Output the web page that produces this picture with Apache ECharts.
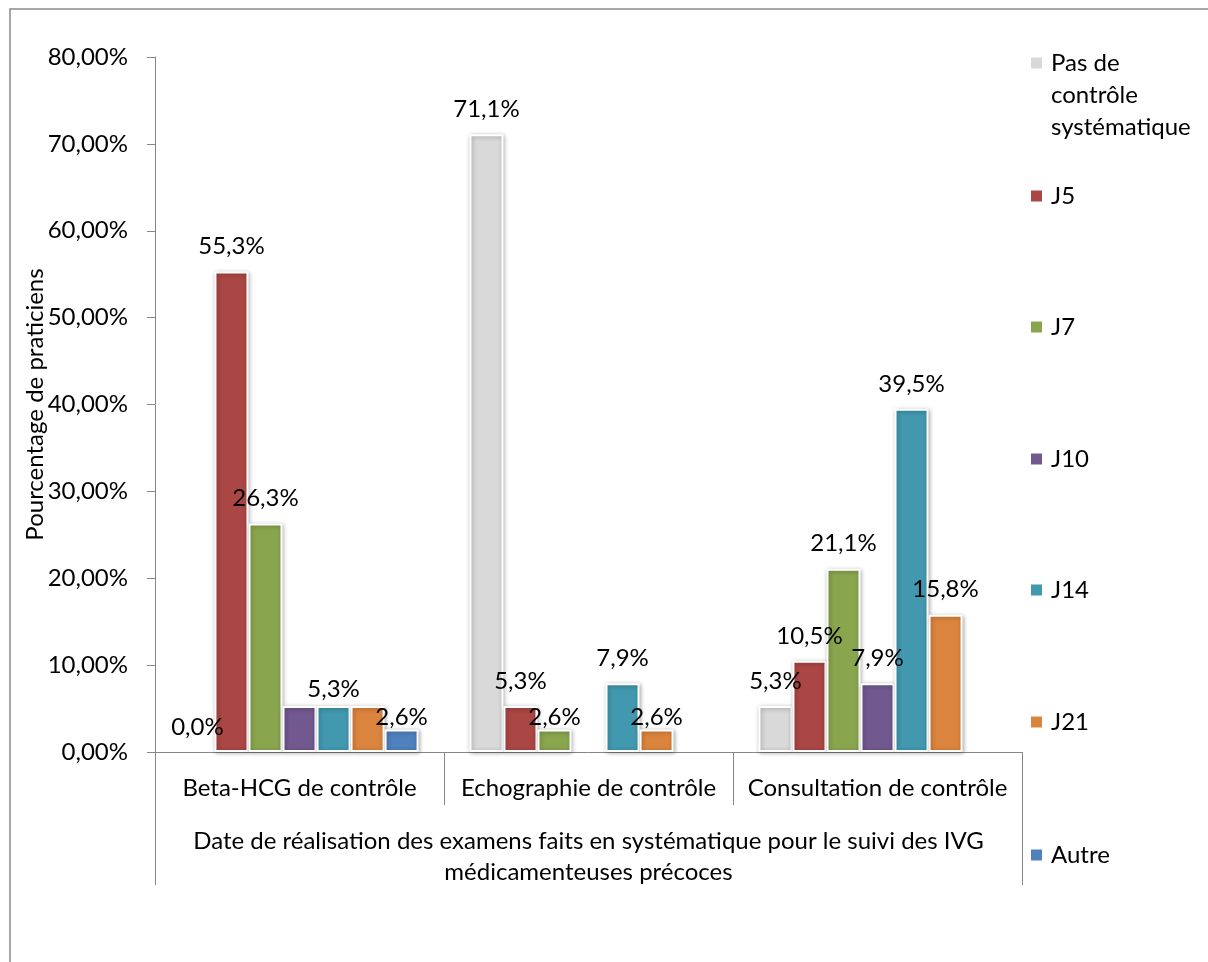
<!DOCTYPE html>
<html>
<head>
<meta charset="utf-8">
<script src="https://cdn.jsdelivr.net/npm/echarts@6/dist/echarts.min.js"></script>
<style>
  html, body { margin: 0; padding: 0; background: #ffffff; }
  #chart { width: 1208px; height: 962px; }
</style>
</head>
<body>
<div id="chart"></div>
<script>
// Categories (exams) and the outer axis title
const categories = ['Beta-HCG de contrôle', 'Echographie de contrôle', 'Consultation de contrôle'];
const groupTitle = 'Date de réalisation des examens faits en systématique pour le suivi des IVG\nmédicamenteuses précoces';

// Series names, in legend order
const seriesNames = ['Pas de contrôle systématique', 'J5', 'J7', 'J10', 'J14', 'J21', 'Autre'];

// Percentages of practitioners per category (null = no bar)
const pasDeControle = [0.0, 71.1, 5.3];
const j5 = [55.3, 5.3, 10.5];
const j7 = [26.3, 2.6, 21.1];
const j10 = [5.3, null, 7.9];
const j14 = [5.3, 7.9, 39.5];
const j21 = [5.3, 2.6, 15.8];
const autre = [2.6, null, null];

// Value axis range
const yMin = 0;
const yMax = 80;
const yStep = 10;

const seriesValues = [pasDeControle, j5, j7, j10, j14, j21, autre];
const colors = ['#D9D9D9', '#AA4643', '#89A54E', '#71588F', '#4198AF', '#DB843D', '#4F81BD'];

// Labels that are not displayed, and labels nudged closer to their bar
const hiddenLabels = { 'J10|0': true, 'J21|0': true };
const labelShift = { 'J14|0': 8, 'Autre|0': 13, 'J7|1': 13, 'J21|1': 13 };

const FONT = 'Lato, "Open Sans", sans-serif';
const TEXT = '#000000';
const AXIS = '#868686';
const FS = 24;

const fmtPct = v => v.toFixed(1).replace('.', ',') + '%';

const series = seriesNames.map((name, si) => ({
  name: name,
  type: 'bar',
  xAxisIndex: 0,
  barGap: '0%',
  barCategoryGap: '17.6%',
  itemStyle: {
    color: colors[si],
    borderColor: '#ffffff',
    borderWidth: 2,
    shadowBlur: 4,
    shadowColor: 'rgba(0,0,0,0.30)',
    shadowOffsetX: 1,
    shadowOffsetY: 1
  },
  label: {
    show: true,
    position: 'top',
    distance: 13,
    color: TEXT,
    fontFamily: FONT,
    fontSize: FS,
    formatter: p => fmtPct(p.value)
  },
  data: seriesValues[si].map((v, ci) => {
    const key = name + '|' + ci;
    const item = { value: v };
    if (v === 0) item.itemStyle = { borderWidth: 0, shadowBlur: 0, shadowColor: 'transparent' };
    if (hiddenLabels[key]) item.label = { show: false };
    else if (labelShift[key]) item.label = { offset: [0, labelShift[key]] };
    return item;
  })
}));

// One legend block per series so each entry sits on its own row
const legendCenters = [63, 196, 327, 459, 590, 722, 855];
const legends = seriesNames.map((name, i) => {
  const multi = i === 0;
  return {
    data: [name],
    orient: 'vertical',
    left: 1029,
    // the wrapped entry carries two empty leading lines so its first line faces the marker
    top: multi ? legendCenters[i] - 80 : legendCenters[i] - 16,
    padding: 0,
    itemWidth: 13,
    itemHeight: 13,
    icon: 'rect',
    selectedMode: false,
    formatter: n => multi ? '\n\nPas de\ncontrôle\nsystématique' : n,
    textStyle: {
      color: TEXT,
      fontFamily: FONT,
      fontSize: FS,
      lineHeight: 32,
      padding: [0, 0, 0, 3]
    }
  };
});

const chart = echarts.init(document.getElementById('chart'), null, { renderer: 'canvas' });
chart.setOption({
  backgroundColor: '#ffffff',
  animation: false,
  color: colors,
  textStyle: { fontFamily: FONT },
  graphic: [{
    type: 'rect',
    shape: { x: 10, y: 9, width: 1400, height: 1200 },
    style: { fill: 'none', stroke: '#8C8C8C', lineWidth: 1.5 },
    silent: true,
    z: -1
  }],
  legend: legends,
  grid: { left: 155, right: 186, top: 57, bottom: 210, containLabel: false },
  xAxis: [{
    type: 'category',
    data: categories,
    position: 'bottom',
    axisLine: { show: true, lineStyle: { color: AXIS, width: 1 } },
    axisTick: { show: true, inside: false, length: 53, alignWithLabel: false, lineStyle: { color: AXIS } },
    axisLabel: { color: TEXT, fontFamily: FONT, fontSize: FS, margin: 21, lineHeight: 30, interval: 0 },
    splitLine: { show: false }
  }, {
    type: 'category',
    data: [groupTitle],
    position: 'bottom',
    offset: 53,
    axisLine: { show: false },
    axisTick: { show: true, inside: false, length: 80, alignWithLabel: false, lineStyle: { color: AXIS } },
    axisLabel: { color: TEXT, fontFamily: FONT, fontSize: FS, margin: 21, lineHeight: 31, interval: 0, align: 'center' },
    splitLine: { show: false }
  }],
  yAxis: {
    type: 'value',
    min: yMin,
    max: yMax,
    interval: yStep,
    name: 'Pourcentage de praticiens',
    nameLocation: 'middle',
    nameGap: 108,
    nameMoveOverlap: false,
    nameTextStyle: { color: TEXT, fontFamily: FONT, fontSize: FS },
    axisLine: { show: true, lineStyle: { color: AXIS, width: 1 } },
    axisTick: { show: true, inside: false, length: 8, lineStyle: { color: AXIS } },
    axisLabel: {
      color: TEXT, fontFamily: FONT, fontSize: FS, margin: 27,
      formatter: v => v.toFixed(2).replace('.', ',') + '%'
    },
    splitLine: { show: false }
  },
  series: series
});
</script>
</body>
</html>
